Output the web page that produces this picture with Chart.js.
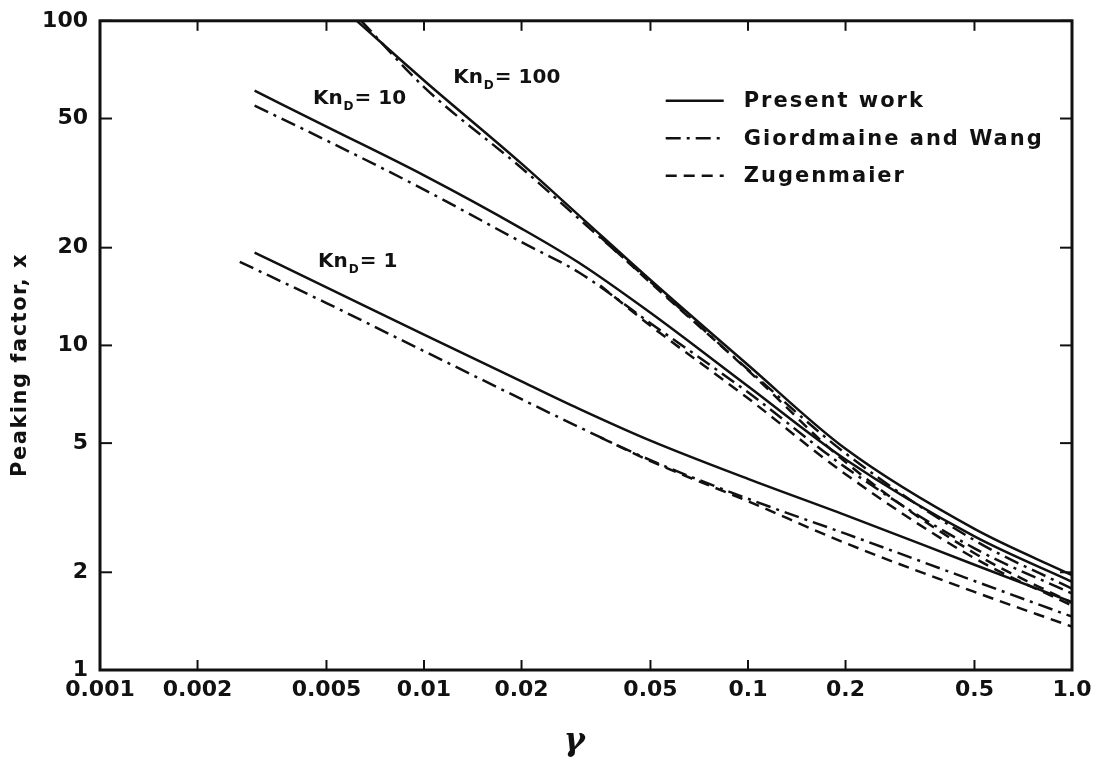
<!DOCTYPE html>
<html>
<head>
<meta charset="utf-8">
<script src="https://cdn.jsdelivr.net/npm/chart.js@4.4.0/dist/chart.umd.min.js"></script>
<style>
  html, body { margin: 0; padding: 0; background: #fff; }
  #wrap { width: 1105px; height: 763px; }
</style>
</head>
<body>
<div id="wrap"><canvas id="chart" width="1105" height="763"></canvas></div>
<script>
  // axis ticks
  const xTicks = [0.001, 0.002, 0.005, 0.01, 0.02, 0.05, 0.1, 0.2, 0.5, 1.0];
  const xTickLabels = ['0.001', '0.002', '0.005', '0.01', '0.02', '0.05', '0.1', '0.2', '0.5', '1.0'];
  const yTicks = [1, 2, 5, 10, 20, 50, 100];
  const yTickLabels = ['1', '2', '5', '10', '20', '50', '100'];

  // Kn_D = 100
  const gammaKn100Present = [0.0062, 0.01, 0.02, 0.03, 0.05, 0.1, 0.2, 0.5, 1.0];
  const peakKn100Present  = [100, 65.5, 36.3, 25.2, 15.9, 8.7, 4.8, 2.72, 1.96];
  const gammaKn100GW = [0.0064, 0.01, 0.02, 0.03, 0.05, 0.1, 0.2, 0.5, 1.0];
  const peakKn100GW  = [100, 62.5, 35.2, 24.6, 15.7, 8.43, 4.65, 2.51, 1.78];
  const gammaKn100Zug = [0.035, 0.05, 0.1, 0.2, 0.5, 1.0];
  const peakKn100Zug  = [21.6, 15.6, 8.38, 4.37, 2.29, 1.61];

  // Kn_D = 10
  const gammaKn10Present = [0.003, 0.005, 0.01, 0.02, 0.03, 0.05, 0.1, 0.2, 0.5, 1.0];
  const peakKn10Present  = [60.9, 47.2, 33.4, 22.9, 18.0, 12.6, 7.48, 4.45, 2.58, 1.87];
  const gammaKn10GW = [0.003, 0.005, 0.01, 0.02, 0.03, 0.05, 0.1, 0.2, 0.5, 1.0];
  const peakKn10GW  = [54.8, 42.8, 30.2, 20.8, 16.8, 11.7, 7.17, 4.21, 2.37, 1.72];
  const gammaKn10Zug = [0.035, 0.05, 0.1, 0.2, 0.5, 1.0];
  const peakKn10Zug  = [15.3, 11.5, 6.87, 4.01, 2.21, 1.58];

  // Kn_D = 1
  const gammaKn1Present = [0.003, 0.005, 0.01, 0.02, 0.03, 0.05, 0.1, 0.2, 0.5, 1.0];
  const peakKn1Present  = [19.3, 15.1, 10.8, 7.75, 6.39, 5.09, 3.88, 3.0, 2.11, 1.62];
  const gammaKn1GW = [0.0027, 0.005, 0.01, 0.02, 0.03, 0.05, 0.1, 0.2, 0.5, 1.0];
  const peakKn1GW  = [18.1, 13.5, 9.6, 6.83, 5.61, 4.43, 3.37, 2.63, 1.88, 1.46];
  const gammaKn1Zug = [0.035, 0.05, 0.1, 0.2, 0.5, 1.0];
  const peakKn1Zug  = [5.21, 4.4, 3.31, 2.46, 1.74, 1.36];

  // curve labels (Kn_D = ...), placed in data units
  const knLabels = [
    { value: '100', gamma: 0.0123, peak: 64.4 },
    { value: '10', gamma: 0.00454, peak: 55.5 },
    { value: '1', gamma: 0.00471, peak: 17.4 }
  ];

  const legendNames = ['Present work', 'Giordmaine and Wang', 'Zugenmaier'];
  const yTitle = 'Peaking factor, x';
  const xTitle = 'γ';

  const INK = '#111';
  const FONT = 'DejaVu Sans';
  const styles = {
    present: [],
    gw: [15, 6, 3, 6],
    zug: [11, 7]
  };

  const pts = (g, p) => g.map((v, i) => ({ x: v, y: p[i] }));

  function series(g, p, dash) {
    return {
      data: pts(g, p),
      borderColor: INK,
      borderWidth: 2.5,
      borderDash: dash,
      pointRadius: 0,
      fill: false,
      cubicInterpolationMode: 'monotone'
    };
  }

  const datasets = [
    series(gammaKn100Present, peakKn100Present, styles.present),
    series(gammaKn100GW, peakKn100GW, styles.gw),
    series(gammaKn100Zug, peakKn100Zug, styles.zug),
    series(gammaKn10Present, peakKn10Present, styles.present),
    series(gammaKn10GW, peakKn10GW, styles.gw),
    series(gammaKn10Zug, peakKn10Zug, styles.zug),
    series(gammaKn1Present, peakKn1Present, styles.present),
    series(gammaKn1GW, peakKn1GW, styles.gw),
    series(gammaKn1Zug, peakKn1Zug, styles.zug)
  ];

  function seg(ctx, x1, y1, x2, y2) {
    ctx.beginPath();
    ctx.moveTo(x1, y1);
    ctx.lineTo(x2, y2);
    ctx.stroke();
  }

  const frameAndNotes = {
    id: 'frameAndNotes',
    afterDatasetsDraw(chart) {
      const { ctx, chartArea: a, scales: { x, y } } = chart;
      ctx.save();
      ctx.strokeStyle = INK;
      ctx.fillStyle = INK;

      // frame
      ctx.lineWidth = 3;
      ctx.strokeRect(a.left, a.top, a.right - a.left, a.bottom - a.top);

      // inward tick marks
      ctx.lineWidth = 2;
      xTicks.forEach(v => {
        const px = x.getPixelForValue(v);
        seg(ctx, px, a.bottom, px, a.bottom - 10);
        seg(ctx, px, a.top, px, a.top + 10);
      });
      yTicks.forEach(v => {
        const py = y.getPixelForValue(v);
        seg(ctx, a.left, py, a.left + 12, py);
        seg(ctx, a.right, py, a.right - 12, py);
      });

      // y axis title, a little below the middle as in the original
      ctx.save();
      ctx.translate(a.left - 79, a.top + (a.bottom - a.top) * 0.53);
      ctx.rotate(-Math.PI / 2);
      ctx.font = `bold 21px ${FONT}`;
      ctx.textAlign = 'center';
      ctx.textBaseline = 'middle';
      if ('letterSpacing' in ctx) ctx.letterSpacing = '1.5px';
      ctx.fillText(yTitle, 0, 0);
      ctx.restore();

      // x axis title
      ctx.font = `italic bold 32px DejaVu Serif`;
      ctx.textAlign = 'center';
      ctx.textBaseline = 'middle';
      ctx.fillText(xTitle, a.left + (a.right - a.left) * 0.488, a.bottom + 72);

      // Kn_D labels
      ctx.textBaseline = 'alphabetic';
      ctx.textAlign = 'left';
      knLabels.forEach(l => {
        let px = x.getPixelForValue(l.gamma);
        const py = y.getPixelForValue(l.peak);
        ctx.font = `bold 20px ${FONT}`;
        ctx.fillText('Kn', px, py);
        px += ctx.measureText('Kn').width + 1;
        ctx.font = `bold 12px ${FONT}`;
        ctx.fillText('D', px, py + 6);
        px += ctx.measureText('D').width + 1;
        ctx.font = `bold 20px ${FONT}`;
        ctx.fillText('= ' + l.value, px, py);
      });

      // legend
      const lx = a.left + (a.right - a.left) * 0.582;
      const ly = a.top + 80;
      const dashes = [styles.present, styles.gw, styles.zug];
      ctx.font = `bold 21px ${FONT}`;
      ctx.textBaseline = 'middle';
      if ('letterSpacing' in ctx) ctx.letterSpacing = '2px';
      legendNames.forEach((name, i) => {
        const yy = ly + i * 37.5;
        ctx.lineWidth = 2.5;
        ctx.setLineDash(dashes[i]);
        seg(ctx, lx, yy, lx + 58, yy);
        ctx.setLineDash([]);
        ctx.fillText(name, lx + 78, yy + 1);
      });
      ctx.restore();
    }
  };

  new Chart(document.getElementById('chart'), {
    type: 'line',
    data: { datasets },
    options: {
      responsive: false,
      animation: false,
      layout: { padding: { top: 20, right: 33, bottom: 0, left: 0 } },
      plugins: {
        legend: { display: false },
        tooltip: { enabled: false }
      },
      scales: {
        x: {
          type: 'logarithmic',
          min: 0.001,
          max: 1,
          afterBuildTicks: s => { s.ticks = xTicks.map(v => ({ value: v })); },
          afterFit: s => { s.height = 93; },
          grid: { display: false, drawTicks: false },
          border: { display: false },
          ticks: {
            autoSkip: false,
            maxRotation: 0,
            padding: 7,
            color: INK,
            font: { family: FONT, size: 22, weight: 'bold' },
            callback: (v, i) => xTickLabels[i]
          },
          title: { display: false }
        },
        y: {
          type: 'logarithmic',
          min: 1,
          max: 100,
          afterBuildTicks: s => { s.ticks = yTicks.map(v => ({ value: v })); },
          afterFit: s => { s.width = 100; },
          grid: { display: false, drawTicks: false },
          border: { display: false },
          ticks: {
            autoSkip: false,
            padding: 12,
            color: INK,
            font: { family: FONT, size: 22, weight: 'bold', lineHeight: 0.8 },
            callback: (v, i) => yTickLabels[i]
          },
          title: { display: false }
        }
      }
    },
    plugins: [frameAndNotes]
  });
</script>
</body>
</html>
